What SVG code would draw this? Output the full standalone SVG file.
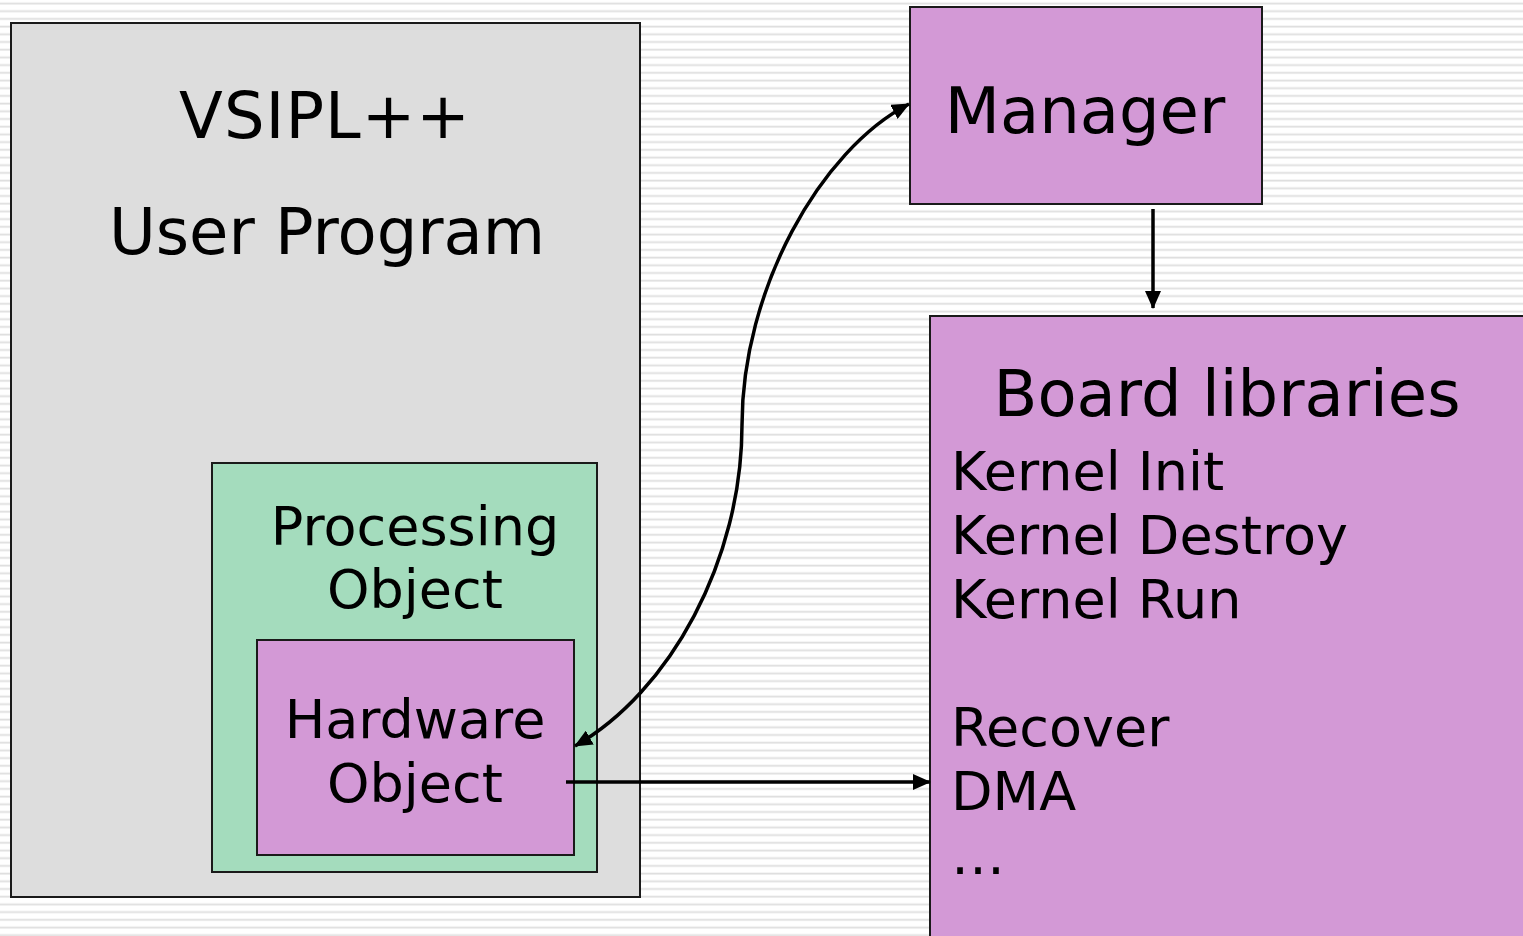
<svg xmlns="http://www.w3.org/2000/svg" width="1523" height="936" viewBox="0 0 1523 936">
  <defs>
    <pattern id="stripes" patternUnits="userSpaceOnUse" width="16" height="7.7">
      <rect x="0" y="0" width="16" height="7.7" fill="#ffffff"/>
      <rect x="0" y="2.6" width="16" height="1.2" fill="#dedede"/>
      <rect x="0" y="3.8" width="16" height="1" fill="#ececec"/>
    </pattern>
    <marker id="arrow" viewBox="0 0 18 16" refX="17" refY="8" markerWidth="18" markerHeight="16" markerUnits="userSpaceOnUse" orient="auto-start-reverse">
      <path d="M0,0 L18,8 L0,16 Z" fill="#000"/>
    </marker>
  </defs>
  <style>
    .box { stroke: #1a1a1a; stroke-width: 2; }
    .gray { fill: #dddddd; }
    .green { fill: #a4dcbd; }
    .purple { fill: #d399d6; }
    .big { font-family: "DejaVu Sans", Verdana, sans-serif; font-size: 64px; fill: #000; }
    .mid { font-family: "DejaVu Sans", Verdana, sans-serif; font-size: 54px; fill: #000; }
    .wire { fill: none; stroke: #000; stroke-width: 3.5; }
  </style>

  <rect x="0" y="0" width="1523" height="936" fill="url(#stripes)"/>

  <g id="user-program">
    <rect class="box gray" x="11" y="23" width="629" height="874" stroke-width="2.5"/>
    <text class="big" x="325" y="138" text-anchor="middle" letter-spacing="1">VSIPL++</text>
    <text class="big" x="327" y="254" text-anchor="middle">User Program</text>
  </g>

  <g id="processing-object">
    <rect class="box green" x="212" y="463" width="385" height="409"/>
    <text class="mid" x="415" y="545" text-anchor="middle">Processing</text>
    <text class="mid" x="415" y="608" text-anchor="middle">Object</text>
  </g>

  <g id="hardware-object">
    <rect class="box purple" x="257" y="640" width="317" height="215"/>
    <text class="mid" x="415" y="738" text-anchor="middle">Hardware</text>
    <text class="mid" x="415" y="802" text-anchor="middle">Object</text>
  </g>

  <g id="manager">
    <rect class="box purple" x="910" y="7" width="352" height="197"/>
    <text class="big" x="1085" y="133" text-anchor="middle">Manager</text>
  </g>

  <g id="board-libraries">
    <rect class="box purple" x="930" y="316" width="620" height="650"/>
    <text class="big" x="1227" y="416" text-anchor="middle">Board libraries</text>
    <text class="mid" x="951" y="490">Kernel Init</text>
    <text class="mid" x="951" y="554">Kernel Destroy</text>
    <text class="mid" x="951" y="618">Kernel Run</text>
    <text class="mid" x="951" y="746">Recover</text>
    <text class="mid" x="951" y="810">DMA</text>
    <text class="mid" x="951" y="874">…</text>
  </g>

  <g id="connectors">
    <path class="wire" d="M575,746 C670,692 742,560 742,425 C742,290 820,150 909,104" marker-start="url(#arrow)" marker-end="url(#arrow)"/>
    <path class="wire" d="M566,782 L930,782" marker-end="url(#arrow)"/>
    <path class="wire" d="M1153,209 L1153,308" marker-end="url(#arrow)"/>
  </g>
</svg>
